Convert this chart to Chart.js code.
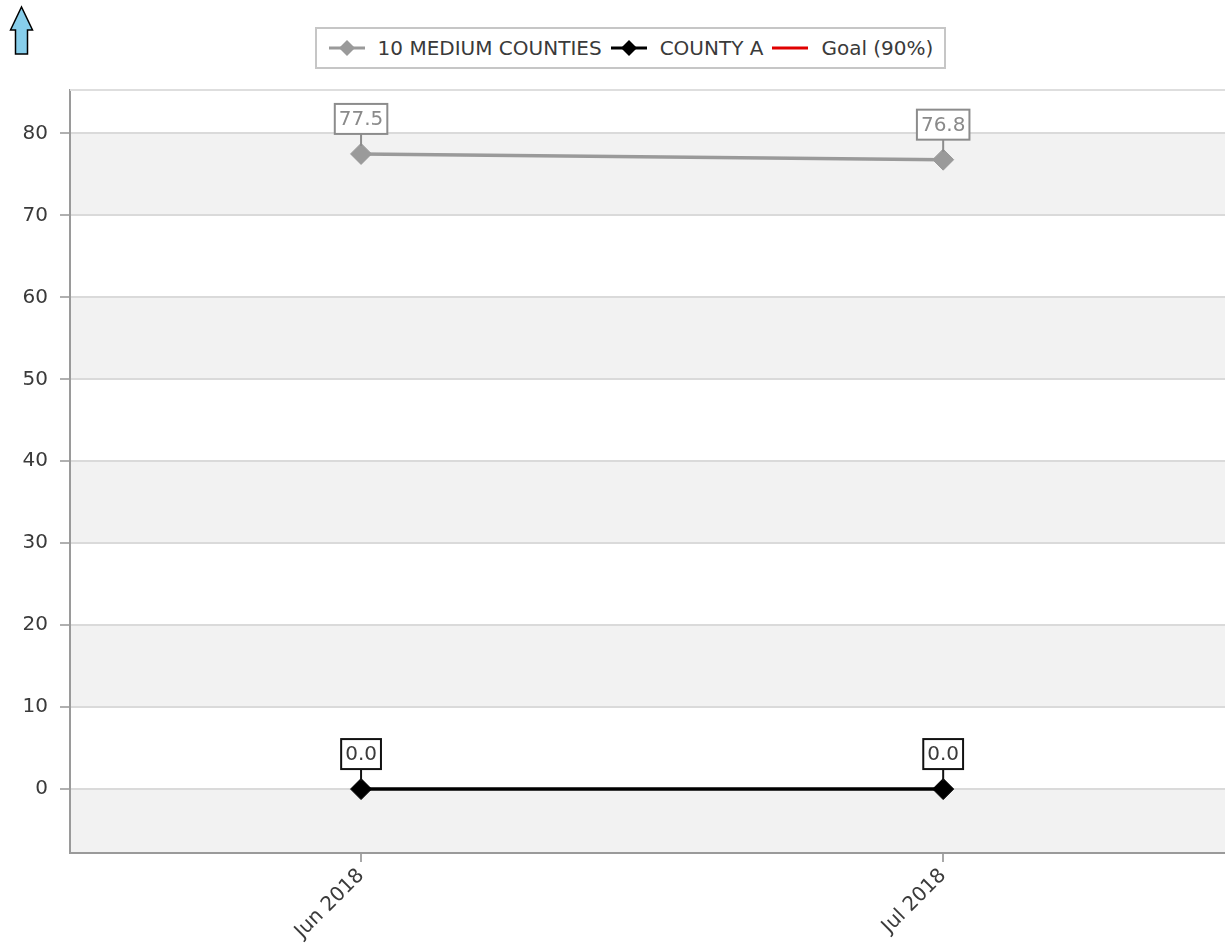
<!DOCTYPE html>
<html>
<head>
<meta charset="utf-8">
<script src="https://cdn.jsdelivr.net/npm/chart.js@4.4.1/dist/chart.umd.min.js"></script>
<style>
  html, body { margin: 0; padding: 0; background: #fff; overflow: hidden; }
  #wrap { position: relative; width: 1225px; height: 951px; overflow: hidden; }
  #chart { position: absolute; left: 0; top: 0; }
  #arrow { position: absolute; left: 8px; top: 5px; }
  #legend {
    position: absolute; left: 315px; top: 27px; width: 627px; height: 38px;
    border: 2px solid #c6c6c6; display: flex; align-items: center; justify-content: center;
    font: 20px "DejaVu Sans", sans-serif; color: #3a3a3a; white-space: nowrap;
  }
  #legend .item { display: flex; align-items: center; margin: 0 4px; }
  #legend svg { margin-right: 12px; }
</style>
</head>
<body>
<div id="wrap">
  <svg id="arrow" width="28" height="52" viewBox="0 0 28 52">
    <path d="M2.5 25 L13.5 2 L24.5 25 L19.5 25 L19.5 49 L7.5 49 L7.5 25 Z" fill="#87ceeb" stroke="#000" stroke-width="1.5" stroke-linejoin="miter"/>
  </svg>
  <div id="legend"></div>
  <canvas id="chart" width="1237" height="951"></canvas>
</div>
<script>
// monthly rate chart: comparison group vs county, with goal line

const MONTHS = ["Jun 2018", "Jul 2018"];
const MEDIUM_COUNTIES = [77.5, 76.8];
const COUNTY_A = [0.0, 0.0];
const GOAL = [90, 90];
const Y_TICKS = [0, 10, 20, 30, 40, 50, 60, 70, 80];
const Y_MIN = -7.8, Y_MAX = 85.3;
const X_MIN = -0.5, X_MAX = 1.485;

const FONT = "'DejaVu Sans', sans-serif";
const TXT = "#3a3a3a";

function pts(vals) { return vals.map((v, i) => ({ x: i, y: v })); }

// alternating bands behind the grid
const bandPlugin = {
  id: "bands",
  beforeDraw(chart) {
    const { ctx, chartArea: a, scales: { y } } = chart;
    ctx.save();
    ctx.beginPath(); ctx.rect(a.left, a.top, a.right - a.left, a.bottom - a.top); ctx.clip();
    for (let v = -10; v < 90; v += 10) {
      if (Math.abs(v / 10) % 2 !== 1) continue;
      const top = y.getPixelForValue(v + 10), bot = y.getPixelForValue(v);
      ctx.fillStyle = "#f2f2f2";
      ctx.fillRect(a.left, top, a.right - a.left, bot - top);
    }
    ctx.restore();
  },
  afterDraw(chart) {
    const { ctx, chartArea: a } = chart;
    ctx.save();
    ctx.strokeStyle = "#dedede"; ctx.lineWidth = 2;
    ctx.beginPath(); ctx.moveTo(a.left, a.top); ctx.lineTo(a.right, a.top); ctx.stroke();
    ctx.restore();
  }
};

// boxed value labels with a short stem down to the point
const boxLabelPlugin = {
  id: "boxLabels",
  afterDatasetsDraw(chart) {
    const ctx = chart.ctx;
    chart.data.datasets.forEach((ds, di) => {
      if (!ds.boxLabel) return;
      const meta = chart.getDatasetMeta(di);
      meta.data.forEach((pt, i) => {
        const txt = ds.data[i].y.toFixed(1);
        ctx.save();
        ctx.font = "20px " + FONT;
        const w = ctx.measureText(txt).width + 8, h = 30;
        const bottom = pt.y - 20;
        ctx.strokeStyle = ds.boxLabel.border; ctx.lineWidth = 2;
        ctx.beginPath(); ctx.moveTo(pt.x, bottom); ctx.lineTo(pt.x, pt.y - 8); ctx.stroke();
        ctx.fillStyle = "#fff";
        ctx.fillRect(pt.x - w / 2, bottom - h, w, h);
        ctx.strokeRect(pt.x - w / 2, bottom - h, w, h);
        ctx.fillStyle = ds.boxLabel.text;
        ctx.textAlign = "center"; ctx.textBaseline = "middle";
        ctx.fillText(txt, pt.x, bottom - h / 2 + 1);
        ctx.restore();
      });
    });
  }
};

const chart = new Chart(document.getElementById("chart"), {
  type: "line",
  data: {
    datasets: [
      { label: "10 MEDIUM COUNTIES", data: pts(MEDIUM_COUNTIES), borderColor: "#9a9a9a", backgroundColor: "#9a9a9a",
        borderWidth: 3.5, pointStyle: "rectRot", pointRadius: 10.5, pointBorderWidth: 1,
        boxLabel: { border: "#8c8c8c", text: "#8a8a8a" } },
      { label: "COUNTY A", data: pts(COUNTY_A), borderColor: "#000", backgroundColor: "#000",
        borderWidth: 3.5, pointStyle: "rectRot", pointRadius: 10.5, pointBorderWidth: 1,
        boxLabel: { border: "#111", text: "#3a3a3a" } },
      { label: "Goal (90%)", data: pts(GOAL), borderColor: "#e00000", backgroundColor: "#e00000",
        borderWidth: 3, pointRadius: 0, noMarker: true },
    ]
  },
  options: {
    responsive: false, animation: false,
    layout: { padding: { top: 90, left: 0, right: 0, bottom: 0 } },
    plugins: { legend: { display: false }, tooltip: { enabled: false } },
    scales: {
      x: {
        type: "linear", min: X_MIN, max: X_MAX,
        afterBuildTicks: s => { s.ticks = MONTHS.map((_, i) => ({ value: i })); },
        afterFit: s => { s.height = 98; s.paddingRight = 0; s.paddingLeft = 0; },
        ticks: { callback: v => MONTHS[v], minRotation: 45, maxRotation: 45, autoSkip: false,
                 color: TXT, font: { family: FONT, size: 20 }, padding: 2 },
        grid: { drawOnChartArea: false, tickLength: 9, color: "#a8a8a8", lineWidth: 2 },
        border: { color: "#9a9a9a", width: 2 },
      },
      y: {
        min: Y_MIN, max: Y_MAX,
        afterBuildTicks: s => { s.ticks = Y_TICKS.map(v => ({ value: v })); },
        afterFit: s => { s.width = 70; },
        ticks: { color: TXT, font: { family: FONT, size: 20 }, padding: 12 },
        grid: { color: "#dadada", lineWidth: 2, tickLength: 10, tickColor: "#b0b0b0" },
        border: { color: "#9a9a9a", width: 2 },
      }
    }
  },
  plugins: [bandPlugin, boxLabelPlugin]
});

// html legend built from the datasets
function legendSymbol(ds) {
  const c = ds.borderColor;
  let s = `<svg width="38" height="20"><line x1="1" y1="10" x2="37" y2="10" stroke="${c}" stroke-width="3"/>`;
  if (!ds.noMarker) s += `<path d="M19 2 L27 10 L19 18 L11 10 Z" fill="${c}"/>`;
  return s + "</svg>";
}
document.getElementById("legend").innerHTML = chart.data.datasets.map(ds =>
  `<span class="item">${legendSymbol(ds)}<span>${ds.label}</span></span>`).join("");
</script>
</body>
</html>
